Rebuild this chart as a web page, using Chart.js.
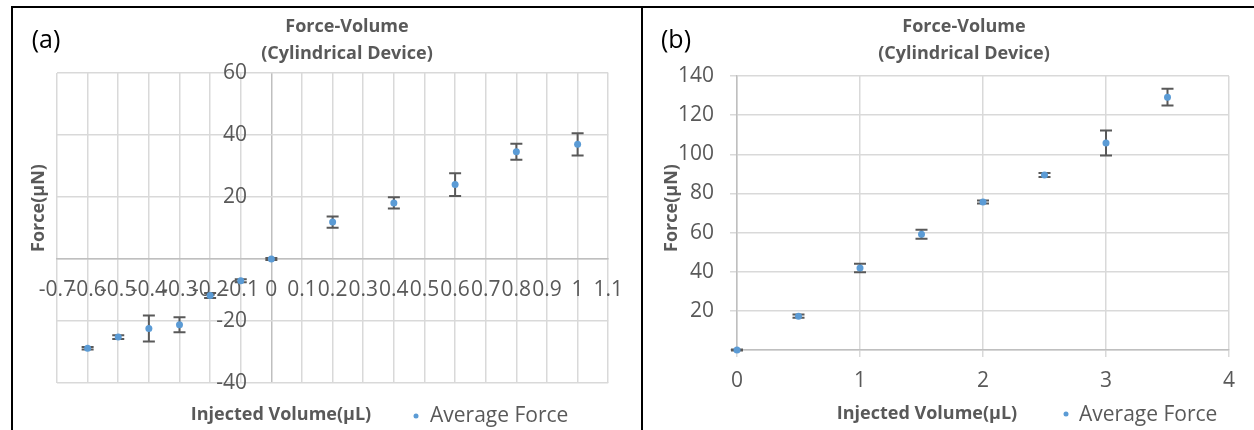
<!DOCTYPE html>
<html>
<head>
<meta charset="utf-8">
<script src="https://cdn.jsdelivr.net/npm/chart.js@4.4.1/dist/chart.umd.min.js"></script>
<style>
  body { margin: 0; background: #fff; font-family: "Open Sans", sans-serif; }
  #page { position: relative; width: 1254px; height: 430px; overflow: hidden; }
  .rule { position: absolute; background: #000; z-index: 5; }
  canvas { position: absolute; }
  .txt { position: absolute; white-space: nowrap; color: #595959; line-height: 1; transform: translate(-50%, -50%); }
  .title { font-size: 18px; font-weight: bold; }
  .tag { color: #000; font-size: 25px; }
  .axt { font-size: 18px; font-weight: bold; }
  .yt { transform: translate(-50%, -50%) rotate(-90deg); }
  .leg { position: absolute; white-space: nowrap; color: #595959; font-size: 21px; line-height: 1; transform: translateY(-50%); }
  .dot { position: absolute; width: 5px; height: 5px; border-radius: 50%; background: #5b9bd5; transform: translate(-50%, -50%); }
</style>
</head>
<body>
<div id="page">
  <div class="rule" style="left:11px; top:6px; width:1243px; height:2px"></div>
  <div class="rule" style="left:11px; top:6px; width:2px; height:424px"></div>
  <div class="rule" style="left:641px; top:6px; width:2px; height:424px"></div>

  <canvas id="chartA" width="629" height="422" style="left:12px; top:8px"></canvas>
  <canvas id="chartB" width="611" height="422" style="left:643px; top:8px"></canvas>

  <div class="txt tag" style="left:46px; top:38px">(a)</div>
  <div class="txt title" style="left:347px; top:25px">Force-Volume</div>
  <div class="txt title" style="left:347px; top:52px">(Cylindrical Device)</div>
  <div class="txt axt yt" style="left:37px; top:208px">Force(μN)</div>
  <div class="txt axt" style="left:281px; top:413px">Injected Volume(μL)</div>
  <div class="dot" style="left:416px; top:416px"></div>
  <div class="leg" style="left:430px; top:414px">Average Force</div>

  <div class="txt tag" style="left:676px; top:38px">(b)</div>
  <div class="txt title" style="left:964px; top:25px">Force-Volume</div>
  <div class="txt title" style="left:964px; top:52px">(Cylindrical Device)</div>
  <div class="txt axt yt" style="left:670px; top:208px">Force(μN)</div>
  <div class="txt axt" style="left:927px; top:412px">Injected Volume(μL)</div>
  <div class="dot" style="left:1066px; top:414px"></div>
  <div class="leg" style="left:1079px; top:413px">Average Force</div>
</div>

<script>
// (a) data
const volA = [-0.6, -0.5, -0.4, -0.3, -0.2, -0.1, 0, 0.2, 0.4, 0.6, 0.8, 1.0];
const forceA = [-28.8, -25.2, -22.4, -21.2, -11.8, -7.0, 0, 11.9, 18.1, 24.0, 34.6, 37.0];
const errA = [0.4, 0.6, 4.2, 2.4, 0.8, 0.5, 0.3, 1.8, 1.8, 3.7, 2.6, 3.6];
const xTicksA = [-0.7, -0.6, -0.5, -0.4, -0.3, -0.2, -0.1, 0, 0.1, 0.2, 0.3, 0.4, 0.5, 0.6, 0.7, 0.8, 0.9, 1, 1.1];
const xLabelsA = ['-0.7', '-0.6', '-0.5', '-0.4', '-0.3', '-0.2', '-0.1', '0', '0.1', '0.2', '0.3', '0.4', '0.5', '0.6', '0.7', '0.8', '0.9', '1', '1.1'];
const yTicksA = [-40, -20, 0, 20, 40, 60];
const yLabelsA = ['-40', '-20', '', '20', '40', '60'];

// (b) data
const volB = [0, 0.5, 1, 1.5, 2, 2.5, 3, 3.5];
const forceB = [0, 17.3, 41.9, 59.2, 75.6, 89.4, 105.8, 129.2];
const errB = [0.3, 0.8, 2.2, 2.3, 0.8, 1.0, 6.4, 4.3];
const xTicksB = [0, 1, 2, 3, 4];
const xLabelsB = ['0', '1', '2', '3', '4'];
const yTicksB = [0, 20, 40, 60, 80, 100, 120, 140];
const yLabelsB = ['', '20', '40', '60', '80', '100', '120', '140'];

const errorBars = {
  id: 'errorBars',
  beforeDatasetsDraw(chart, args, opts) {
    const { ctx, scales: { x, y } } = chart;
    const pts = chart.data.datasets[0].data;
    ctx.save();
    ctx.strokeStyle = '#595959';
    ctx.lineWidth = 2;
    pts.forEach((p, i) => {
      const e = opts.errors[i];
      const px = x.getPixelForValue(p.x);
      const top = y.getPixelForValue(p.y + e);
      const bot = y.getPixelForValue(p.y - e);
      ctx.beginPath();
      ctx.moveTo(px, top); ctx.lineTo(px, bot);
      ctx.moveTo(px - 6, top); ctx.lineTo(px + 6, top);
      ctx.moveTo(px - 6, bot); ctx.lineTo(px + 6, bot);
      ctx.stroke();
    });
    ctx.restore();
  }
};

function fixedTicks(values) {
  return scale => { scale.ticks = values.map(v => ({ value: v })); };
}

function makeChart(id, xs, ys, errs, cfg) {
  return new Chart(document.getElementById(id), {
    type: 'scatter',
    data: {
      datasets: [{
        label: 'Average Force',
        data: xs.map((v, i) => ({ x: v, y: ys[i] })),
        backgroundColor: '#5b9bd5',
        borderWidth: 0,
        pointRadius: 3.5,
        clip: false
      }]
    },
    options: {
      responsive: false,
      animation: false,
      layout: { padding: cfg.padding },
      plugins: {
        legend: { display: false },
        tooltip: { enabled: false },
        errorBars: { errors: errs }
      },
      scales: {
        x: {
          type: 'linear',
          position: cfg.xPos,
          min: cfg.xTicks[0],
          max: cfg.xTicks[cfg.xTicks.length - 1],
          afterBuildTicks: fixedTicks(cfg.xTicks),
          afterFit: s => { if (cfg.xSize) s.height = cfg.xSize; },
          grid: {
            color: c => (cfg.darkZero && c.tick && c.tick.value === 0) ? '#bfbfbf' : '#d9d9d9',
            lineWidth: 1.5, drawTicks: cfg.drawTicks, tickLength: 7
          },
          border: { color: '#bfbfbf', width: 1.5 },
          ticks: {
            autoSkip: false, maxRotation: 0, minRotation: 0,
            padding: cfg.xPad, color: '#595959',
            font: { family: 'Open Sans', size: 21 },
            callback: (v, i) => cfg.xLabels[i]
          }
        },
        y: {
          type: 'linear',
          position: cfg.yPos,
          min: cfg.yTicks[0],
          max: cfg.yTicks[cfg.yTicks.length - 1],
          afterBuildTicks: fixedTicks(cfg.yTicks),
          afterFit: s => { if (cfg.ySize) s.width = cfg.ySize; },
          grid: { color: '#d9d9d9', lineWidth: 1.5, drawTicks: cfg.drawTicks, tickLength: 7 },
          border: { display: !cfg.darkZero, color: '#bfbfbf', width: 1.5 },
          ticks: {
            padding: cfg.yPad, color: '#595959',
            font: { family: 'Open Sans', size: 21 },
            callback: (v, i) => cfg.yLabels[i]
          }
        }
      }
    },
    plugins: [errorBars]
  });
}

// (a): labels of a crossing y axis sit flush on its anchor, so anchor it a little left of x=0
// and let the x=0 grid line act as the axis line
makeChart('chartA', volA, forceA, errA, {
  padding: { left: 45, right: 30, top: 65, bottom: 47 },
  xPos: { y: 0 }, yPos: { x: -0.0795 }, darkZero: true,
  xTicks: xTicksA, xLabels: xLabelsA, yTicks: yTicksA, yLabels: yLabelsA,
  drawTicks: false, xPad: 18, yPad: 0
});

makeChart('chartB', volB, forceB, errB, {
  padding: { left: 0, right: 25, top: 68, bottom: 0 },
  xPos: 'bottom', yPos: 'left', xSize: 80, ySize: 94,
  xTicks: xTicksB, xLabels: xLabelsB, yTicks: yTicksB, yLabels: yLabelsB,
  drawTicks: true, xPad: 11, yPad: 16
});
</script>
</body>
</html>
